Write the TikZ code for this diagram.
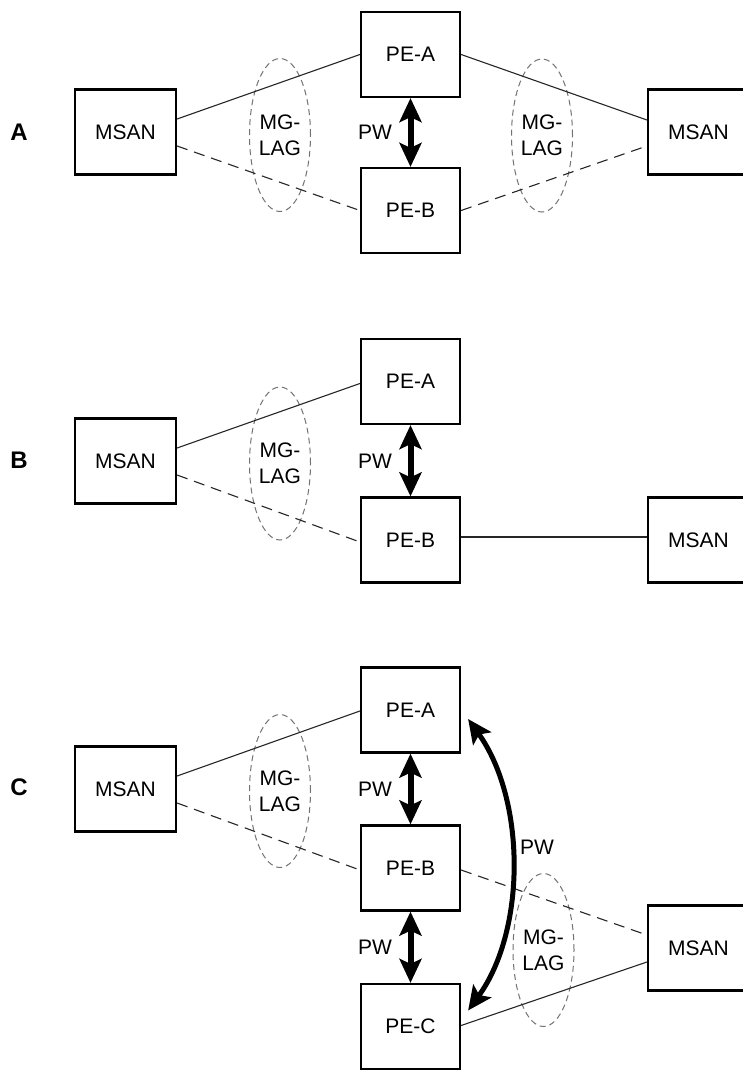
\documentclass[tikz,border=0pt]{standalone}
\usepackage{fontspec}
\setmainfont{Liberation Sans}
\usetikzlibrary{shapes.geometric,arrows.meta}
\begin{document}
\begin{tikzpicture}[x=1pt,y=-1pt,
  every node/.style={font=\fontsize{21}{26}\selectfont},
  pebox/.style={draw=black,line width=2.2pt,minimum width=99pt,minimum height=85pt,inner sep=0pt},
  msanbox/.style={draw=black,line width=2.2pt,minimum width=101pt,minimum height=85pt,inner sep=0pt},
  lag/.style={draw=black!55,dash pattern=on 6pt off 4pt,line width=1pt,ellipse,minimum width=61pt,minimum height=153pt,inner sep=0pt,align=center},
  link/.style={draw=black!85,line width=1.1pt},
  dlink/.style={draw=black!85,line width=1.1pt,dash pattern=on 11pt off 7pt},
  pwarrow/.style={line width=6pt,{Stealth[length=24pt,width=22pt,inset=5pt]}-{Stealth[length=24pt,width=22pt,inset=5pt]}},
  sec/.style={font=\fontsize{24}{28}\selectfont\bfseries},
  plabel/.style={inner sep=0pt}]
\useasboundingbox (0,0) rectangle (742,1070);
\fill[white] (0,0) rectangle (742,1070);

% ---------- A ----------
\node[sec] (labA) at (19,132) {A};
\node[msanbox] (aML) at (125.5,132) {MSAN};
\node[pebox] (aPA) at (410.5,54.5) {PE-A};
\node[pebox] (aPB) at (410.5,210.5) {PE-B};
\node[msanbox] (aMR) at (698.5,132) {MSAN};
\node[lag] (aLL) at (280,135) {MG-\\LAG};
\node[lag] (aLR) at (542,135.5) {MG-\\LAG};
\node[plabel] (aPW) at (375,132) {PW};
\draw[link] ([yshift=13pt]aML.east) -- (aPA.west);
\draw[dlink] ([yshift=-14pt]aML.east) -- (aPB.west);
\draw[link] (aPA.east) -- ([yshift=12pt]aMR.west);
\draw[dlink] (aPB.east) -- ([yshift=-14pt]aMR.west);
\draw[pwarrow] (aPA.south) -- (aPB.north);

% ---------- B ----------
\node[sec] (labB) at (19,460.5) {B};
\node[msanbox] (bML) at (125.5,461) {MSAN};
\node[pebox] (bPA) at (410.5,381.5) {PE-A};
\node[pebox] (bPB) at (410.5,540) {PE-B};
\node[msanbox] (bMR) at (698.5,540) {MSAN};
\node[lag] (bLL) at (280,463.5) {MG-\\LAG};
\node[plabel] (bPW) at (375,461) {PW};
\draw[link] ([yshift=13pt]bML.east) -- ([yshift=-2pt]bPA.west);
\draw[dlink] ([yshift=-14pt]bML.east) -- ([yshift=-2pt]bPB.west);
\draw[link] ([yshift=3pt]bPB.east) -- ([yshift=3pt]bMR.west);
\draw[pwarrow] (bPA.south) -- (bPB.north);

% ---------- C ----------
\node[sec] (labC) at (19,787) {C};
\node[msanbox] (cML) at (125.5,789) {MSAN};
\node[pebox] (cPA) at (410.5,710) {PE-A};
\node[pebox] (cPB) at (410.5,868) {PE-B};
\node[pebox] (cPC) at (410.5,1026.5) {PE-C};
\node[msanbox] (cMR) at (698.5,948) {MSAN};
\node[lag] (cLL) at (280,791) {MG-\\LAG};
\node[lag] (cLR) at (543.5,950) {MG-\\LAG};
\node[plabel] (cPW1) at (375,789) {PW};
\node[plabel] (cPW2) at (375,947) {PW};
\node[plabel] (cPW3) at (537,847) {PW};
\draw[link] ([yshift=13pt]cML.east) -- ([yshift=-1pt]cPA.west);
\draw[dlink] ([yshift=-14pt]cML.east) -- ([yshift=-2pt]cPB.west);
\draw[dlink] ([yshift=-2pt]cPB.east) -- ([yshift=13pt]cMR.west);
\draw[link] ([yshift=1pt]cPC.east) -- ([yshift=-14pt]cMR.west);
\draw[pwarrow] (cPA.south) -- (cPB.north);
\draw[pwarrow] (cPB.south) -- (cPC.north);
\draw[pwarrow,line width=5pt] ([xshift=7pt,yshift=-9pt]cPA.east) .. controls +(58,81) and +(58,-80) .. ([xshift=7pt,yshift=16pt]cPC.east);
\end{tikzpicture}
\end{document}
